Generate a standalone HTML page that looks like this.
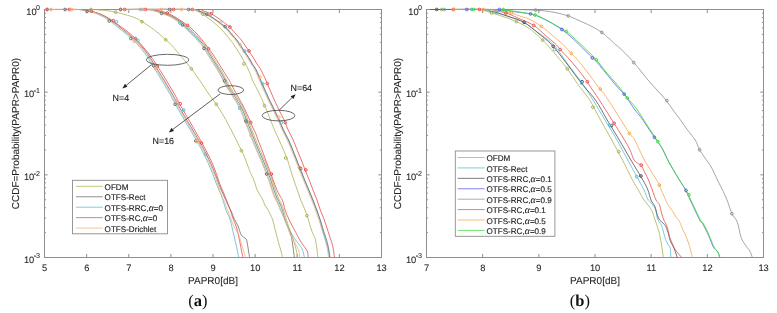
<!DOCTYPE html>
<html><head><meta charset="utf-8"><style>
html,body{margin:0;padding:0;background:#fff;}
svg{display:block;}
text{font-family:"Liberation Sans",sans-serif;fill:#1e1e1e;text-rendering:geometricPrecision;}
.lg,.nl{stroke:#1e1e1e;stroke-width:0.15px;}
.tk,.xl{stroke:#333;stroke-width:0.1px;}
.tk{font-size:9.3px;}
.sup{font-size:7.1px;}
.xl{font-size:10px;}
.lg{font-size:8.1px;}
.al{font-family:"Liberation Serif",serif;font-style:italic;font-size:9.8px;}
.nl{font-size:8.9px;}
.cap{font-family:"Liberation Serif",serif;font-size:16.5px;fill:#111;}
.cap tspan{font-weight:bold;}
</style></head><body>
<svg width="777" height="313" viewBox="0 0 777 313">
<rect width="777" height="313" fill="#fff"/>
<rect x="44.5" y="9.5" width="337.0" height="248.0" fill="none" stroke="#8e8e8e" stroke-width="1"/>
<path d="M44.5,257.5 v-3.5 M44.5,9.5 v3.5" stroke="#8e8e8e" stroke-width="1"/>
<path d="M86.62,257.5 v-3.5 M86.62,9.5 v3.5" stroke="#8e8e8e" stroke-width="1"/>
<path d="M128.75,257.5 v-3.5 M128.75,9.5 v3.5" stroke="#8e8e8e" stroke-width="1"/>
<path d="M170.88,257.5 v-3.5 M170.88,9.5 v3.5" stroke="#8e8e8e" stroke-width="1"/>
<path d="M213,257.5 v-3.5 M213,9.5 v3.5" stroke="#8e8e8e" stroke-width="1"/>
<path d="M255.12,257.5 v-3.5 M255.12,9.5 v3.5" stroke="#8e8e8e" stroke-width="1"/>
<path d="M297.25,257.5 v-3.5 M297.25,9.5 v3.5" stroke="#8e8e8e" stroke-width="1"/>
<path d="M339.38,257.5 v-3.5 M339.38,9.5 v3.5" stroke="#8e8e8e" stroke-width="1"/>
<path d="M381.5,257.5 v-3.5 M381.5,9.5 v3.5" stroke="#8e8e8e" stroke-width="1"/>
<path d="M44.5,9.5 h3.2 M381.5,9.5 h-3.2" stroke="#8e8e8e" stroke-width="1"/>
<path d="M44.5,92.17 h3.2 M381.5,92.17 h-3.2" stroke="#8e8e8e" stroke-width="1"/>
<path d="M44.5,174.83 h3.2 M381.5,174.83 h-3.2" stroke="#8e8e8e" stroke-width="1"/>
<path d="M44.5,257.5 h3.2 M381.5,257.5 h-3.2" stroke="#8e8e8e" stroke-width="1"/>
<path d="M44.5,67.28 h1.6 M381.5,67.28 h-1.6" stroke="#8e8e8e" stroke-width="0.9"/>
<path d="M44.5,52.72 h1.6 M381.5,52.72 h-1.6" stroke="#8e8e8e" stroke-width="0.9"/>
<path d="M44.5,42.4 h1.6 M381.5,42.4 h-1.6" stroke="#8e8e8e" stroke-width="0.9"/>
<path d="M44.5,34.39 h1.6 M381.5,34.39 h-1.6" stroke="#8e8e8e" stroke-width="0.9"/>
<path d="M44.5,27.84 h1.6 M381.5,27.84 h-1.6" stroke="#8e8e8e" stroke-width="0.9"/>
<path d="M44.5,22.31 h1.6 M381.5,22.31 h-1.6" stroke="#8e8e8e" stroke-width="0.9"/>
<path d="M44.5,17.51 h1.6 M381.5,17.51 h-1.6" stroke="#8e8e8e" stroke-width="0.9"/>
<path d="M44.5,13.28 h1.6 M381.5,13.28 h-1.6" stroke="#8e8e8e" stroke-width="0.9"/>
<path d="M44.5,149.95 h1.6 M381.5,149.95 h-1.6" stroke="#8e8e8e" stroke-width="0.9"/>
<path d="M44.5,135.39 h1.6 M381.5,135.39 h-1.6" stroke="#8e8e8e" stroke-width="0.9"/>
<path d="M44.5,125.06 h1.6 M381.5,125.06 h-1.6" stroke="#8e8e8e" stroke-width="0.9"/>
<path d="M44.5,117.05 h1.6 M381.5,117.05 h-1.6" stroke="#8e8e8e" stroke-width="0.9"/>
<path d="M44.5,110.51 h1.6 M381.5,110.51 h-1.6" stroke="#8e8e8e" stroke-width="0.9"/>
<path d="M44.5,104.97 h1.6 M381.5,104.97 h-1.6" stroke="#8e8e8e" stroke-width="0.9"/>
<path d="M44.5,100.18 h1.6 M381.5,100.18 h-1.6" stroke="#8e8e8e" stroke-width="0.9"/>
<path d="M44.5,95.95 h1.6 M381.5,95.95 h-1.6" stroke="#8e8e8e" stroke-width="0.9"/>
<path d="M44.5,232.61 h1.6 M381.5,232.61 h-1.6" stroke="#8e8e8e" stroke-width="0.9"/>
<path d="M44.5,218.06 h1.6 M381.5,218.06 h-1.6" stroke="#8e8e8e" stroke-width="0.9"/>
<path d="M44.5,207.73 h1.6 M381.5,207.73 h-1.6" stroke="#8e8e8e" stroke-width="0.9"/>
<path d="M44.5,199.72 h1.6 M381.5,199.72 h-1.6" stroke="#8e8e8e" stroke-width="0.9"/>
<path d="M44.5,193.17 h1.6 M381.5,193.17 h-1.6" stroke="#8e8e8e" stroke-width="0.9"/>
<path d="M44.5,187.64 h1.6 M381.5,187.64 h-1.6" stroke="#8e8e8e" stroke-width="0.9"/>
<path d="M44.5,182.84 h1.6 M381.5,182.84 h-1.6" stroke="#8e8e8e" stroke-width="0.9"/>
<path d="M44.5,178.62 h1.6 M381.5,178.62 h-1.6" stroke="#8e8e8e" stroke-width="0.9"/>
<rect x="426.5" y="9.5" width="337.0" height="248.0" fill="none" stroke="#8e8e8e" stroke-width="1"/>
<path d="M426.5,257.5 v-3.5 M426.5,9.5 v3.5" stroke="#8e8e8e" stroke-width="1"/>
<path d="M482.67,257.5 v-3.5 M482.67,9.5 v3.5" stroke="#8e8e8e" stroke-width="1"/>
<path d="M538.83,257.5 v-3.5 M538.83,9.5 v3.5" stroke="#8e8e8e" stroke-width="1"/>
<path d="M595,257.5 v-3.5 M595,9.5 v3.5" stroke="#8e8e8e" stroke-width="1"/>
<path d="M651.17,257.5 v-3.5 M651.17,9.5 v3.5" stroke="#8e8e8e" stroke-width="1"/>
<path d="M707.33,257.5 v-3.5 M707.33,9.5 v3.5" stroke="#8e8e8e" stroke-width="1"/>
<path d="M763.5,257.5 v-3.5 M763.5,9.5 v3.5" stroke="#8e8e8e" stroke-width="1"/>
<path d="M426.5,9.5 h3.2 M763.5,9.5 h-3.2" stroke="#8e8e8e" stroke-width="1"/>
<path d="M426.5,92.17 h3.2 M763.5,92.17 h-3.2" stroke="#8e8e8e" stroke-width="1"/>
<path d="M426.5,174.83 h3.2 M763.5,174.83 h-3.2" stroke="#8e8e8e" stroke-width="1"/>
<path d="M426.5,257.5 h3.2 M763.5,257.5 h-3.2" stroke="#8e8e8e" stroke-width="1"/>
<path d="M426.5,67.28 h1.6 M763.5,67.28 h-1.6" stroke="#8e8e8e" stroke-width="0.9"/>
<path d="M426.5,52.72 h1.6 M763.5,52.72 h-1.6" stroke="#8e8e8e" stroke-width="0.9"/>
<path d="M426.5,42.4 h1.6 M763.5,42.4 h-1.6" stroke="#8e8e8e" stroke-width="0.9"/>
<path d="M426.5,34.39 h1.6 M763.5,34.39 h-1.6" stroke="#8e8e8e" stroke-width="0.9"/>
<path d="M426.5,27.84 h1.6 M763.5,27.84 h-1.6" stroke="#8e8e8e" stroke-width="0.9"/>
<path d="M426.5,22.31 h1.6 M763.5,22.31 h-1.6" stroke="#8e8e8e" stroke-width="0.9"/>
<path d="M426.5,17.51 h1.6 M763.5,17.51 h-1.6" stroke="#8e8e8e" stroke-width="0.9"/>
<path d="M426.5,13.28 h1.6 M763.5,13.28 h-1.6" stroke="#8e8e8e" stroke-width="0.9"/>
<path d="M426.5,149.95 h1.6 M763.5,149.95 h-1.6" stroke="#8e8e8e" stroke-width="0.9"/>
<path d="M426.5,135.39 h1.6 M763.5,135.39 h-1.6" stroke="#8e8e8e" stroke-width="0.9"/>
<path d="M426.5,125.06 h1.6 M763.5,125.06 h-1.6" stroke="#8e8e8e" stroke-width="0.9"/>
<path d="M426.5,117.05 h1.6 M763.5,117.05 h-1.6" stroke="#8e8e8e" stroke-width="0.9"/>
<path d="M426.5,110.51 h1.6 M763.5,110.51 h-1.6" stroke="#8e8e8e" stroke-width="0.9"/>
<path d="M426.5,104.97 h1.6 M763.5,104.97 h-1.6" stroke="#8e8e8e" stroke-width="0.9"/>
<path d="M426.5,100.18 h1.6 M763.5,100.18 h-1.6" stroke="#8e8e8e" stroke-width="0.9"/>
<path d="M426.5,95.95 h1.6 M763.5,95.95 h-1.6" stroke="#8e8e8e" stroke-width="0.9"/>
<path d="M426.5,232.61 h1.6 M763.5,232.61 h-1.6" stroke="#8e8e8e" stroke-width="0.9"/>
<path d="M426.5,218.06 h1.6 M763.5,218.06 h-1.6" stroke="#8e8e8e" stroke-width="0.9"/>
<path d="M426.5,207.73 h1.6 M763.5,207.73 h-1.6" stroke="#8e8e8e" stroke-width="0.9"/>
<path d="M426.5,199.72 h1.6 M763.5,199.72 h-1.6" stroke="#8e8e8e" stroke-width="0.9"/>
<path d="M426.5,193.17 h1.6 M763.5,193.17 h-1.6" stroke="#8e8e8e" stroke-width="0.9"/>
<path d="M426.5,187.64 h1.6 M763.5,187.64 h-1.6" stroke="#8e8e8e" stroke-width="0.9"/>
<path d="M426.5,182.84 h1.6 M763.5,182.84 h-1.6" stroke="#8e8e8e" stroke-width="0.9"/>
<path d="M426.5,178.62 h1.6 M763.5,178.62 h-1.6" stroke="#8e8e8e" stroke-width="0.9"/>
<path d="M44.5,9.5 C51.75,9.5 78.75,9.42 88,9.5 C97.25,9.58 96.67,9.78 100,10 C103.33,10.22 105.38,10.43 108,10.8 C110.62,11.17 112.87,11.58 115.7,12.2 C118.53,12.82 121.78,13.57 125,14.5 C128.22,15.43 132.33,16.72 135,17.8 C137.67,18.88 139,19.83 141,21 C143,22.17 144.9,23.4 147,24.8 C149.1,26.2 151.43,27.78 153.6,29.4 C155.77,31.02 157.93,32.73 160,34.5 C162.07,36.27 164.08,38.25 166,40 C167.92,41.75 169.88,43.33 171.5,45 C173.12,46.67 173.78,47.75 175.7,50 C177.62,52.25 180.38,55.37 183,58.5 C185.62,61.63 189.07,65.8 191.4,68.8 C193.73,71.8 195.1,73.8 197,76.5 C198.9,79.2 200.72,81.92 202.8,85 C204.88,88.08 207.25,91.78 209.5,95 C211.75,98.22 214.13,101.13 216.3,104.3 C218.47,107.47 220.45,110.55 222.5,114 C224.55,117.45 226.52,121.08 228.6,125 C230.68,128.92 232.93,133.42 235,137.5 C237.07,141.58 239.42,146.25 241,149.5 C242.58,152.75 243.42,154.42 244.5,157 C245.58,159.58 246.58,162.57 247.5,165 C248.42,167.43 249.33,169.93 250,171.6 C250.67,173.27 250.87,173.6 251.5,175 C252.13,176.4 253.13,178.33 253.8,180 C254.47,181.67 254.97,183.4 255.5,185 C256.03,186.6 256.25,187.93 257,189.6 C257.75,191.27 259.02,193.27 260,195 C260.98,196.73 262.1,198.33 262.9,200 C263.7,201.67 264,203.45 264.8,205 C265.6,206.55 266.6,207.37 267.7,209.3 C268.8,211.23 270.52,214.65 271.4,216.6 C272.28,218.55 272.48,219.27 273,221 C273.52,222.73 274,225 274.5,227 C275,229 275.48,231 276,233 C276.52,235 277.07,237 277.6,239 C278.13,241 278.63,243 279.2,245 C279.77,247 280.43,248.92 281,251 C281.57,253.08 282.33,256.42 282.6,257.5" fill="none" stroke="#a9b153" stroke-width="0.8" stroke-linejoin="round"/>
<path d="M120,9.5 C131.33,9.5 175.5,9.37 188,9.5 C200.5,9.63 192.53,9.52 195,10.3 C197.47,11.08 200.63,12.92 202.8,14.2 C204.97,15.48 206.13,16.6 208,18 C209.87,19.4 211.67,20.6 214,22.6 C216.33,24.6 219.27,27.1 222,30 C224.73,32.9 228.4,37.5 230.4,40 C232.4,42.5 232.23,42.33 234,45 C235.77,47.67 238.57,51.83 241,56 C243.43,60.17 246.7,66 248.6,70 C250.5,74 250.75,76.33 252.4,80 C254.05,83.67 256.45,87.75 258.5,92 C260.55,96.25 262.7,100.83 264.7,105.5 C266.7,110.17 268.87,115.92 270.5,120 C272.13,124.08 272.92,126.33 274.5,130 C276.08,133.67 277.95,137.33 280,142 C282.05,146.67 285.13,153.67 286.8,158 C288.47,162.33 288.83,164.33 290,168 C291.17,171.67 292.58,176.33 293.8,180 C295.02,183.67 296.27,187 297.3,190 C298.33,193 299.13,195.63 300,198 C300.87,200.37 301.67,202.2 302.5,204.2 C303.33,206.2 304.25,208.08 305,210 C305.75,211.92 306.42,214.03 307,215.7 C307.58,217.37 307.75,217.62 308.5,220 C309.25,222.38 310.58,227.33 311.5,230 C312.42,232.67 313.35,234.47 314,236 C314.65,237.53 314.93,237.2 315.4,239.2 C315.87,241.2 316.38,244.95 316.8,248 C317.22,251.05 317.72,255.92 317.9,257.5" fill="none" stroke="#a9b153" stroke-width="0.8" stroke-linejoin="round"/>
<path d="M46.9,9.5 C52.15,9.5 72.15,9.4 78.4,9.5 C84.65,9.6 82.4,9.8 84.4,10.1 C86.4,10.4 88.23,10.82 90.4,11.3 C92.57,11.78 95.23,12.28 97.4,13 C99.57,13.72 101.23,14.48 103.4,15.6 C105.57,16.72 108.15,18.22 110.4,19.7 C112.65,21.18 114.68,22.78 116.9,24.5 C119.12,26.22 121.45,28.17 123.7,30 C125.95,31.83 128.58,34 130.4,35.5 C132.22,37 132.93,37.42 134.6,39 C136.27,40.58 138.27,42.58 140.4,45 C142.53,47.42 145.03,50.17 147.4,53.5 C149.77,56.83 152.35,61.42 154.6,65 C156.85,68.58 158.83,71.67 160.9,75 C162.97,78.33 165,81.67 167,85 C169,88.33 171.05,91.67 172.9,95 C174.75,98.33 176.27,101.67 178.1,105 C179.93,108.33 181.95,111.67 183.9,115 C185.85,118.33 187.83,121.67 189.8,125 C191.77,128.33 193.75,131.67 195.7,135 C197.65,138.33 199.65,141.67 201.5,145 C203.35,148.33 205.13,151.67 206.8,155 C208.47,158.33 210.03,161.67 211.5,165 C212.97,168.33 214.32,171.67 215.6,175 C216.88,178.33 217.88,181.67 219.2,185 C220.52,188.33 222.12,191.83 223.5,195 C224.88,198.17 226.17,201.17 227.5,204 C228.83,206.83 230.33,209.42 231.5,212 C232.67,214.58 233.42,217.17 234.5,219.5 C235.58,221.83 236.87,223.42 238,226 C239.13,228.58 239.97,232.83 241.3,235 C242.63,237.17 244.98,237.5 246,239 C247.02,240.5 246.8,240.92 247.4,244 C248,247.08 249.23,255.25 249.6,257.5" fill="none" stroke="#6e6e6e" stroke-width="0.8" stroke-linejoin="round"/>
<path d="M44.5,9.5 C49.75,9.5 69.75,9.4 76,9.5 C82.25,9.6 80,9.8 82,10.1 C84,10.4 85.83,10.82 88,11.3 C90.17,11.78 92.83,12.28 95,13 C97.17,13.72 98.83,14.48 101,15.6 C103.17,16.72 105.75,18.22 108,19.7 C110.25,21.18 112.28,22.78 114.5,24.5 C116.72,26.22 119.05,28.17 121.3,30 C123.55,31.83 126.18,34 128,35.5 C129.82,37 130.53,37.42 132.2,39 C133.87,40.58 135.87,42.58 138,45 C140.13,47.42 142.63,50.17 145,53.5 C147.37,56.83 149.95,61.42 152.2,65 C154.45,68.58 156.43,71.67 158.5,75 C160.57,78.33 162.6,81.67 164.6,85 C166.6,88.33 168.65,91.67 170.5,95 C172.35,98.33 173.87,101.67 175.7,105 C177.53,108.33 179.55,111.67 181.5,115 C183.45,118.33 185.43,121.67 187.4,125 C189.37,128.33 191.35,131.67 193.3,135 C195.25,138.33 197.25,141.67 199.1,145 C200.95,148.33 202.73,151.67 204.4,155 C206.07,158.33 207.63,161.67 209.1,165 C210.57,168.33 211.92,171.67 213.2,175 C214.48,178.33 215.47,181.67 216.8,185 C218.13,188.33 220.03,192 221.2,195 C222.37,198 222.95,200.33 223.8,203 C224.65,205.67 225.33,208.5 226.3,211 C227.27,213.5 228.67,215.33 229.6,218 C230.53,220.67 231.12,223.83 231.9,227 C232.68,230.17 233.52,233.67 234.3,237 C235.08,240.33 235.85,243.58 236.6,247 C237.35,250.42 238.43,255.75 238.8,257.5" fill="none" stroke="#5ab9d8" stroke-width="0.8" stroke-linejoin="round"/>
<path d="M44.5,9.5 C50.25,9.5 72.08,9.37 79,9.5 C85.92,9.63 83.83,9.95 86,10.3 C88.17,10.65 89.83,11.05 92,11.6 C94.17,12.15 96.83,12.82 99,13.6 C101.17,14.38 102.83,15.18 105,16.3 C107.17,17.42 109.67,18.77 112,20.3 C114.33,21.83 116.65,23.8 119,25.5 C121.35,27.2 123.27,28.25 126.1,30.5 C128.93,32.75 133.43,36.58 136,39 C138.57,41.42 139.33,42.5 141.5,45 C143.67,47.5 146.47,50.67 149,54 C151.53,57.33 154.37,61.5 156.7,65 C159.03,68.5 160.93,71.67 163,75 C165.07,78.33 167.1,81.67 169.1,85 C171.1,88.33 173.15,91.67 175,95 C176.85,98.33 178.37,101.67 180.2,105 C182.03,108.33 184.07,111.67 186,115 C187.93,118.33 189.88,121.67 191.8,125 C193.72,128.33 195.62,131.67 197.5,135 C199.38,138.33 201.28,141.67 203.1,145 C204.92,148.33 206.75,151.67 208.4,155 C210.05,158.33 211.6,161.67 213,165 C214.4,168.33 215.6,171.67 216.8,175 C218,178.33 218.92,181.67 220.2,185 C221.48,188.33 223.13,191.67 224.5,195 C225.87,198.33 227.38,202.33 228.4,205 C229.42,207.67 229.87,208.83 230.6,211 C231.33,213.17 231.83,215.33 232.8,218 C233.77,220.67 235.43,224 236.4,227 C237.37,230 237.93,233 238.6,236 C239.27,239 239.68,241.42 240.4,245 C241.12,248.58 242.48,255.42 242.9,257.5" fill="none" stroke="#ea4d4d" stroke-width="0.8" stroke-linejoin="round"/>
<path d="M45.8,9.5 C51.05,9.5 71.05,9.4 77.3,9.5 C83.55,9.6 81.3,9.8 83.3,10.1 C85.3,10.4 87.13,10.82 89.3,11.3 C91.47,11.78 94.13,12.28 96.3,13 C98.47,13.72 100.13,14.48 102.3,15.6 C104.47,16.72 107.05,18.22 109.3,19.7 C111.55,21.18 113.58,22.78 115.8,24.5 C118.02,26.22 120.35,28.17 122.6,30 C124.85,31.83 127.48,34 129.3,35.5 C131.12,37 131.83,37.42 133.5,39 C135.17,40.58 137.17,42.58 139.3,45 C141.43,47.42 143.93,50.17 146.3,53.5 C148.67,56.83 151.25,61.42 153.5,65 C155.75,68.58 157.73,71.67 159.8,75 C161.87,78.33 163.9,81.67 165.9,85 C167.9,88.33 169.95,91.67 171.8,95 C173.65,98.33 175.17,101.67 177,105 C178.83,108.33 180.85,111.67 182.8,115 C184.75,118.33 186.73,121.67 188.7,125 C190.67,128.33 192.65,131.67 194.6,135 C196.55,138.33 198.55,141.67 200.4,145 C202.25,148.33 204.03,151.67 205.7,155 C207.37,158.33 208.93,161.67 210.4,165 C211.87,168.33 213.22,171.67 214.5,175 C215.78,178.33 216.95,181.67 218.1,185 C219.25,188.33 220.13,191.67 221.4,195 C222.67,198.33 224.63,202.33 225.7,205 C226.77,207.67 226.92,208.67 227.8,211 C228.68,213.33 229.97,216.33 231,219 C232.03,221.67 232.73,224.4 234,227 C235.27,229.6 237.3,231.6 238.6,234.6 C239.9,237.6 240.97,242.27 241.8,245 C242.63,247.73 242.98,248.92 243.6,251 C244.22,253.08 245.18,256.42 245.5,257.5" fill="none" stroke="#f2b07a" stroke-width="0.8" stroke-linejoin="round"/>
<path d="M120,9.5 C124.42,9.5 140.92,9.38 146.5,9.5 C152.08,9.62 151,9.7 153.5,10.2 C156,10.7 159,11.7 161.5,12.5 C164,13.3 166.17,14 168.5,15 C170.83,16 173.17,17.08 175.5,18.5 C177.83,19.92 180.5,21.92 182.5,23.5 C184.5,25.08 185.83,26.42 187.5,28 C189.17,29.58 190.83,31.33 192.5,33 C194.17,34.67 196.08,36.5 197.5,38 C198.92,39.5 199.83,40.67 201,42 C202.17,43.33 203.08,44 204.5,46 C205.92,48 207.83,51.33 209.5,54 C211.17,56.67 212.83,59.33 214.5,62 C216.17,64.67 217.92,67.33 219.5,70 C221.08,72.67 222.67,75.5 224,78 C225.33,80.5 225.83,82.17 227.5,85 C229.17,87.83 231.92,91.67 234,95 C236.08,98.33 238.42,102.17 240,105 C241.58,107.83 242.42,109.5 243.5,112 C244.58,114.5 245.33,117 246.5,120 C247.67,123 249.18,126.67 250.5,130 C251.82,133.33 253.07,136.67 254.4,140 C255.73,143.33 257.07,146.67 258.5,150 C259.93,153.33 261.58,156.67 263,160 C264.42,163.33 265.7,166.67 267,170 C268.3,173.33 269.63,176.67 270.8,180 C271.97,183.33 272.97,187 274,190 C275.03,193 275.92,195.5 277,198 C278.08,200.5 279.62,203 280.5,205 C281.38,207 281.5,207.5 282.3,210 C283.1,212.5 284.35,217.17 285.3,220 C286.25,222.83 287.03,224.45 288,227 C288.97,229.55 290.27,232 291.1,235.3 C291.93,238.6 292.47,243.1 293,246.8 C293.53,250.5 294.08,255.72 294.3,257.5" fill="none" stroke="#6e6e6e" stroke-width="0.8" stroke-linejoin="round"/>
<path d="M120,9.5 C124.17,9.5 139.67,9.38 145,9.5 C150.33,9.62 149.5,9.7 152,10.2 C154.5,10.7 157.5,11.7 160,12.5 C162.5,13.3 164.67,14 167,15 C169.33,16 171.67,17.08 174,18.5 C176.33,19.92 179,21.92 181,23.5 C183,25.08 184.33,26.42 186,28 C187.67,29.58 189.33,31.33 191,33 C192.67,34.67 194.58,36.5 196,38 C197.42,39.5 198.33,40.67 199.5,42 C200.67,43.33 201.58,44 203,46 C204.42,48 206.33,51.33 208,54 C209.67,56.67 211.33,59.33 213,62 C214.67,64.67 216.42,67.33 218,70 C219.58,72.67 221.17,75.5 222.5,78 C223.83,80.5 224.33,82.17 226,85 C227.67,87.83 230.42,91.67 232.5,95 C234.58,98.33 236.92,102.17 238.5,105 C240.08,107.83 240.92,109.5 242,112 C243.08,114.5 243.83,117 245,120 C246.17,123 247.68,126.67 249,130 C250.32,133.33 251.57,136.67 252.9,140 C254.23,143.33 255.57,146.67 257,150 C258.43,153.33 260.08,156.67 261.5,160 C262.92,163.33 264.2,166.67 265.5,170 C266.8,173.33 268.13,176.67 269.3,180 C270.47,183.33 271.47,187 272.5,190 C273.53,193 274.42,195.5 275.5,198 C276.58,200.5 278.12,203 279,205 C279.88,207 280.05,208 280.8,210 C281.55,212 282.5,214.5 283.5,217 C284.5,219.5 285.55,222.37 286.8,225 C288.05,227.63 289.55,230.3 291,232.8 C292.45,235.3 294,237.87 295.5,240 C297,242.13 298.83,243.93 300,245.6 C301.17,247.27 301.75,248.02 302.5,250 C303.25,251.98 304.17,256.25 304.5,257.5" fill="none" stroke="#5ab9d8" stroke-width="0.8" stroke-linejoin="round"/>
<path d="M120,9.5 C124.65,9.5 142.08,9.38 147.9,9.5 C153.72,9.62 152.4,9.7 154.9,10.2 C157.4,10.7 160.4,11.7 162.9,12.5 C165.4,13.3 167.57,14 169.9,15 C172.23,16 174.57,17.08 176.9,18.5 C179.23,19.92 181.9,21.92 183.9,23.5 C185.9,25.08 187.23,26.42 188.9,28 C190.57,29.58 192.23,31.33 193.9,33 C195.57,34.67 197.48,36.5 198.9,38 C200.32,39.5 201.23,40.67 202.4,42 C203.57,43.33 204.48,44 205.9,46 C207.32,48 209.23,51.33 210.9,54 C212.57,56.67 214.23,59.33 215.9,62 C217.57,64.67 219.32,67.33 220.9,70 C222.48,72.67 224.07,75.5 225.4,78 C226.73,80.5 227.23,82.17 228.9,85 C230.57,87.83 233.32,91.67 235.4,95 C237.48,98.33 239.82,102.17 241.4,105 C242.98,107.83 243.82,109.5 244.9,112 C245.98,114.5 246.73,117 247.9,120 C249.07,123 250.58,126.67 251.9,130 C253.22,133.33 254.47,136.67 255.8,140 C257.13,143.33 258.47,146.67 259.9,150 C261.33,153.33 262.98,156.67 264.4,160 C265.82,163.33 267.1,166.67 268.4,170 C269.7,173.33 271.03,176.67 272.2,180 C273.37,183.33 274.37,187 275.4,190 C276.43,193 277.32,195.5 278.4,198 C279.48,200.5 281.02,203 281.9,205 C282.78,207 283.05,207.83 283.7,210 C284.35,212.17 284.83,214.83 285.8,218 C286.77,221.17 288.22,225.33 289.5,229 C290.78,232.67 292.38,236.5 293.5,240 C294.62,243.5 295.53,247.08 296.2,250 C296.87,252.92 297.28,256.25 297.5,257.5" fill="none" stroke="#a9b153" stroke-width="0.8" stroke-linejoin="round"/>
<path d="M120,9.5 C125,9.5 143.67,9.33 150,9.5 C156.33,9.67 155.13,9.92 158,10.5 C160.87,11.08 164.37,11.92 167.2,13 C170.03,14.08 172.53,15.58 175,17 C177.47,18.42 179.85,20.08 182,21.5 C184.15,22.92 186.23,24.25 187.9,25.5 C189.57,26.75 190.48,27.58 192,29 C193.52,30.42 195.32,32.17 197,34 C198.68,35.83 200.6,38.17 202.1,40 C203.6,41.83 204.85,43.53 206,45 C207.15,46.47 207.67,46.97 209,48.8 C210.33,50.63 212.33,53.47 214,56 C215.67,58.53 217.33,61.33 219,64 C220.67,66.67 222.32,69.33 224,72 C225.68,74.67 227.82,77.83 229.1,80 C230.38,82.17 230.38,82.5 231.7,85 C233.02,87.5 235.17,91.67 237,95 C238.83,98.33 241.12,102 242.7,105 C244.28,108 245.33,110.5 246.5,113 C247.67,115.5 248.7,117.67 249.7,120 C250.7,122.33 251.53,124.83 252.5,127 C253.47,129.17 254.58,130.83 255.5,133 C256.42,135.17 256.92,137.17 258,140 C259.08,142.83 260.72,146.67 262,150 C263.28,153.33 264.45,156.67 265.7,160 C266.95,163.33 268.25,166.67 269.5,170 C270.75,173.33 272.03,176.83 273.2,180 C274.37,183.17 275.37,186.33 276.5,189 C277.63,191.67 278.95,194 280,196 C281.05,198 281.95,198.67 282.8,201 C283.65,203.33 284.03,206.83 285.1,210 C286.17,213.17 287.63,216.67 289.2,220 C290.77,223.33 292.8,226.8 294.5,230 C296.2,233.2 297.98,236.7 299.4,239.2 C300.82,241.7 301.72,243.08 303,245 C304.28,246.92 306.22,248.62 307.1,250.7 C307.98,252.78 308.1,256.37 308.3,257.5" fill="none" stroke="#ea4d4d" stroke-width="0.8" stroke-linejoin="round"/>
<path d="M120,9.5 C124.05,9.5 139.08,9.38 144.3,9.5 C149.52,9.62 148.8,9.7 151.3,10.2 C153.8,10.7 156.8,11.7 159.3,12.5 C161.8,13.3 163.97,14 166.3,15 C168.63,16 170.97,17.08 173.3,18.5 C175.63,19.92 178.3,21.92 180.3,23.5 C182.3,25.08 183.63,26.42 185.3,28 C186.97,29.58 188.63,31.33 190.3,33 C191.97,34.67 193.88,36.5 195.3,38 C196.72,39.5 197.63,40.67 198.8,42 C199.97,43.33 200.88,44 202.3,46 C203.72,48 205.63,51.33 207.3,54 C208.97,56.67 210.63,59.33 212.3,62 C213.97,64.67 215.72,67.33 217.3,70 C218.88,72.67 220.47,75.5 221.8,78 C223.13,80.5 223.63,82.17 225.3,85 C226.97,87.83 229.72,91.67 231.8,95 C233.88,98.33 236.22,102.17 237.8,105 C239.38,107.83 240.22,109.5 241.3,112 C242.38,114.5 243.13,117 244.3,120 C245.47,123 246.98,126.67 248.3,130 C249.62,133.33 250.87,136.67 252.2,140 C253.53,143.33 254.87,146.67 256.3,150 C257.73,153.33 259.38,156.67 260.8,160 C262.22,163.33 263.5,166.67 264.8,170 C266.1,173.33 267.43,176.67 268.6,180 C269.77,183.33 270.77,187 271.8,190 C272.83,193 273.72,195.5 274.8,198 C275.88,200.5 277.42,203 278.3,205 C279.18,207 278.98,207.67 280.1,210 C281.22,212.33 283.77,216.17 285,219 C286.23,221.83 286.6,224.33 287.5,227 C288.4,229.67 289.15,232.33 290.4,235 C291.65,237.67 293.6,240.38 295,243 C296.4,245.62 298.03,248.28 298.8,250.7 C299.57,253.12 299.47,256.37 299.6,257.5" fill="none" stroke="#f2b07a" stroke-width="0.8" stroke-linejoin="round"/>
<path d="M120,9.5 C131.78,9.5 177.75,9.25 190.7,9.5 C203.65,9.75 195.23,10.22 197.7,11 C200.17,11.78 203,12.95 205.5,14.2 C208,15.45 210.5,17.07 212.7,18.5 C214.9,19.93 216.85,21.45 218.7,22.8 C220.55,24.15 222.42,25.4 223.8,26.6 C225.18,27.8 225.77,28.6 227,30 C228.23,31.4 229.78,33.33 231.2,35 C232.62,36.67 234.08,38.17 235.5,40 C236.92,41.83 238.33,44 239.7,46 C241.07,48 242.37,50 243.7,52 C245.03,54 246.45,56 247.7,58 C248.95,60 249.98,62 251.2,64 C252.42,66 253.65,67.33 255,70 C256.35,72.67 257.85,76.67 259.3,80 C260.75,83.33 262.22,86.67 263.7,90 C265.18,93.33 266.62,96.67 268.2,100 C269.78,103.33 271.58,106.67 273.2,110 C274.82,113.33 276.4,116.67 277.9,120 C279.4,123.33 280.63,126.67 282.2,130 C283.77,133.33 285.75,136.67 287.3,140 C288.85,143.33 290.13,146.67 291.5,150 C292.87,153.33 294.18,156.67 295.5,160 C296.82,163.33 298.08,166.67 299.4,170 C300.72,173.33 302.03,176.67 303.4,180 C304.77,183.33 306.22,186.67 307.6,190 C308.98,193.33 310.38,196.67 311.7,200 C313.02,203.33 314.28,206.67 315.5,210 C316.72,213.33 317.92,216.67 319,220 C320.08,223.33 321.05,227 322,230 C322.95,233 323.87,235.17 324.7,238 C325.53,240.83 326.33,243.75 327,247 C327.67,250.25 328.42,255.75 328.7,257.5" fill="none" stroke="#f2b07a" stroke-width="0.8" stroke-linejoin="round"/>
<path d="M120,9.5 C131.95,9.5 178.58,9.25 191.7,9.5 C204.82,9.75 196.23,10.22 198.7,11 C201.17,11.78 204,12.95 206.5,14.2 C209,15.45 211.5,17.07 213.7,18.5 C215.9,19.93 217.85,21.45 219.7,22.8 C221.55,24.15 223.42,25.4 224.8,26.6 C226.18,27.8 226.77,28.6 228,30 C229.23,31.4 230.78,33.33 232.2,35 C233.62,36.67 235.08,38.17 236.5,40 C237.92,41.83 239.33,44 240.7,46 C242.07,48 243.37,50 244.7,52 C246.03,54 247.45,56 248.7,58 C249.95,60 250.98,62 252.2,64 C253.42,66 254.65,67.33 256,70 C257.35,72.67 258.85,76.67 260.3,80 C261.75,83.33 263.22,86.67 264.7,90 C266.18,93.33 267.62,96.67 269.2,100 C270.78,103.33 272.58,106.67 274.2,110 C275.82,113.33 277.4,116.67 278.9,120 C280.4,123.33 281.63,126.67 283.2,130 C284.77,133.33 286.75,136.67 288.3,140 C289.85,143.33 291.13,146.67 292.5,150 C293.87,153.33 295.18,156.67 296.5,160 C297.82,163.33 299.08,166.67 300.4,170 C301.72,173.33 303.03,176.67 304.4,180 C305.77,183.33 307.22,186.67 308.6,190 C309.98,193.33 311.38,196.67 312.7,200 C314.02,203.33 315.28,206.67 316.5,210 C317.72,213.33 319,216.67 320,220 C321,223.33 321.58,226.67 322.5,230 C323.42,233.33 324.58,237 325.5,240 C326.42,243 327.33,245.08 328,248 C328.67,250.92 329.25,255.92 329.5,257.5" fill="none" stroke="#5ab9d8" stroke-width="0.8" stroke-linejoin="round"/>
<path d="M120,9.5 C132,9.5 178.83,9.25 192,9.5 C205.17,9.75 196.53,10.22 199,11 C201.47,11.78 204.3,12.95 206.8,14.2 C209.3,15.45 211.8,17.07 214,18.5 C216.2,19.93 218.15,21.45 220,22.8 C221.85,24.15 223.72,25.4 225.1,26.6 C226.48,27.8 227.07,28.6 228.3,30 C229.53,31.4 231.08,33.33 232.5,35 C233.92,36.67 235.38,38.17 236.8,40 C238.22,41.83 239.63,44 241,46 C242.37,48 243.67,50 245,52 C246.33,54 247.75,56 249,58 C250.25,60 251.28,62 252.5,64 C253.72,66 254.95,67.33 256.3,70 C257.65,72.67 259.15,76.67 260.6,80 C262.05,83.33 263.52,86.67 265,90 C266.48,93.33 267.92,96.67 269.5,100 C271.08,103.33 272.88,106.67 274.5,110 C276.12,113.33 277.7,116.67 279.2,120 C280.7,123.33 281.93,126.67 283.5,130 C285.07,133.33 287.05,136.67 288.6,140 C290.15,143.33 291.43,146.67 292.8,150 C294.17,153.33 295.48,156.67 296.8,160 C298.12,163.33 299.38,166.67 300.7,170 C302.02,173.33 303.33,176.67 304.7,180 C306.07,183.33 307.52,186.67 308.9,190 C310.28,193.33 311.68,196.67 313,200 C314.32,203.33 315.58,206.67 316.8,210 C318.02,213.33 319.22,216.67 320.3,220 C321.38,223.33 322.35,227 323.3,230 C324.25,233 325.17,235.17 326,238 C326.83,240.83 327.63,243.75 328.3,247 C328.97,250.25 329.72,255.75 330,257.5" fill="none" stroke="#6e6e6e" stroke-width="0.8" stroke-linejoin="round"/>
<path d="M120,9.5 C132.5,9.5 181.17,9.25 195,9.5 C208.83,9.75 200.3,10.28 203,11 C205.7,11.72 208.7,12.63 211.2,13.8 C213.7,14.97 215.87,16.55 218,18 C220.13,19.45 222.02,21 224,22.5 C225.98,24 228.52,25.75 229.9,27 C231.28,28.25 231.15,28.67 232.3,30 C233.45,31.33 235.3,33.33 236.8,35 C238.3,36.67 239.85,38.17 241.3,40 C242.75,41.83 244.13,44 245.5,46 C246.87,48 248.17,50 249.5,52 C250.83,54 252.25,56 253.5,58 C254.75,60 255.75,62 257,64 C258.25,66 259.53,67.33 261,70 C262.47,72.67 264.3,76.67 265.8,80 C267.3,83.33 268.58,86.67 270,90 C271.42,93.33 272.8,96.67 274.3,100 C275.8,103.33 277.37,106.67 279,110 C280.63,113.33 282.57,116.67 284.1,120 C285.63,123.33 286.68,126.67 288.2,130 C289.72,133.33 291.7,136.67 293.2,140 C294.7,143.33 295.85,146.67 297.2,150 C298.55,153.33 299.97,156.67 301.3,160 C302.63,163.33 303.88,166.67 305.2,170 C306.52,173.33 307.9,176.67 309.2,180 C310.5,183.33 311.7,186.67 313,190 C314.3,193.33 315.78,196.67 317,200 C318.22,203.33 319.08,206.67 320.3,210 C321.52,213.33 323.08,216.67 324.3,220 C325.52,223.33 326.73,227.33 327.6,230 C328.47,232.67 328.67,233.4 329.5,236 C330.33,238.6 331.77,242.02 332.6,245.6 C333.43,249.18 334.18,255.52 334.5,257.5" fill="none" stroke="#ea4d4d" stroke-width="0.8" stroke-linejoin="round"/>
<path d="M446,9.5 C451.33,9.5 471.5,9.28 478,9.5 C484.5,9.72 482.73,10.22 485,10.8 C487.27,11.38 488.6,12.05 491.6,13 C494.6,13.95 498.87,15.07 503,16.5 C507.13,17.93 511.9,19.52 516.4,21.6 C520.9,23.68 525.63,25.92 530,29 C534.37,32.08 539.7,37.43 542.6,40.1 C545.5,42.77 545.17,42.52 547.4,45 C549.63,47.48 552.68,51.03 556,55 C559.32,58.97 563.58,63.8 567.3,68.8 C571.02,73.8 574.57,79.8 578.3,85 C582.03,90.2 586,94.17 589.7,100 C593.4,105.83 596.82,113.33 600.5,120 C604.18,126.67 608.13,133.33 611.8,140 C615.47,146.67 619.05,153.33 622.5,160 C625.95,166.67 629.87,175 632.5,180 C635.13,185 636.38,186.67 638.3,190 C640.22,193.33 642.38,197.5 644,200 C645.62,202.5 646.92,203.58 648,205 C649.08,206.42 649.75,207.33 650.5,208.5 C651.25,209.67 651.85,210.42 652.5,212 C653.15,213.58 653.73,216 654.4,218 C655.07,220 655.77,221.83 656.5,224 C657.23,226.17 658.17,228.67 658.8,231 C659.43,233.33 659.85,235.67 660.3,238 C660.75,240.33 661.13,242.83 661.5,245 C661.87,247.17 662.2,248.92 662.5,251 C662.8,253.08 663.17,256.42 663.3,257.5" fill="none" stroke="#a9b153" stroke-width="0.8" stroke-linejoin="round"/>
<path d="M447,9.5 C452.5,9.5 473.17,9.25 480,9.5 C486.83,9.75 485.27,10.48 488,11 C490.73,11.52 492.73,11.6 496.4,12.6 C500.07,13.6 505.4,15.33 510,17 C514.6,18.67 519.33,20.02 524,22.6 C528.67,25.18 533.03,28.77 538,32.5 C542.97,36.23 548.72,39.58 553.8,45 C558.88,50.42 563.55,58.33 568.5,65 C573.45,71.67 579.42,79.17 583.5,85 C587.58,90.83 589.42,94.17 593,100 C596.58,105.83 601,113.33 605,120 C609,126.67 613.22,133.33 617,140 C620.78,146.67 624.08,153.33 627.7,160 C631.32,166.67 635.98,175 638.7,180 C641.42,185 642.5,186.83 644,190 C645.5,193.17 646.63,197 647.7,199 C648.77,201 649.2,200.5 650.4,202 C651.6,203.5 653.88,206 654.9,208 C655.92,210 656.07,212.17 656.5,214 C656.93,215.83 656.92,217.5 657.5,219 C658.08,220.5 659.22,221.6 660,223 C660.78,224.4 661.27,224.65 662.2,227.4 C663.13,230.15 664.55,236.57 665.6,239.5 C666.65,242.43 667.72,243.55 668.5,245 C669.28,246.45 669.9,246.12 670.3,248.2 C670.7,250.28 670.8,255.95 670.9,257.5" fill="none" stroke="#5ab9d8" stroke-width="0.8" stroke-linejoin="round"/>
<path d="M430,9.5 C438.67,9.5 472,9.25 482,9.5 C492,9.75 487.33,10.42 490,11 C492.67,11.58 494.67,12 498,13 C501.33,14 505.65,15.45 510,17 C514.35,18.55 519.43,19.63 524.1,22.3 C528.77,24.97 533.37,29.22 538,33 C542.63,36.78 547.07,39.83 551.9,45 C556.73,50.17 561.85,57.33 567,64 C572.15,70.67 578.05,79 582.8,85 C587.55,91 591.43,94.17 595.5,100 C599.57,105.83 603.23,113.33 607.2,120 C611.17,126.67 615.35,133.33 619.3,140 C623.25,146.67 626.98,153.33 630.9,160 C634.82,166.67 639.97,175 642.8,180 C645.63,185 646.53,186.67 647.9,190 C649.27,193.33 649.83,197.23 651,200 C652.17,202.77 653.82,204.02 654.9,206.6 C655.98,209.18 656.7,213.27 657.5,215.5 C658.3,217.73 658.65,218.62 659.7,220 C660.75,221.38 662.72,222.57 663.8,223.8 C664.88,225.03 665.42,225.7 666.2,227.4 C666.98,229.1 667.82,231.77 668.5,234 C669.18,236.23 669.33,238.32 670.3,240.8 C671.27,243.28 673.15,246.12 674.3,248.9 C675.45,251.68 676.72,256.07 677.2,257.5" fill="none" stroke="#505050" stroke-width="0.8" stroke-linejoin="round"/>
<path d="M470,9.5 C477.5,9.5 503.33,9.33 515,9.5 C526.67,9.67 533.33,10 540,10.5 C546.67,11 550.28,11.6 555,12.5 C559.72,13.4 564.13,14.48 568.3,15.9 C572.47,17.32 576.05,19.23 580,21 C583.95,22.77 588.37,24.6 592,26.5 C595.63,28.4 598.97,30.4 601.8,32.4 C604.63,34.4 606.63,36.4 609,38.5 C611.37,40.6 614.17,43.37 616,45 C617.83,46.63 617.4,45.8 620,48.3 C622.6,50.8 628.27,56.38 631.6,60 C634.93,63.62 637.27,66.67 640,70 C642.73,73.33 645.17,76.67 648,80 C650.83,83.33 654.02,86.67 657,90 C659.98,93.33 663.23,96.67 665.9,100 C668.57,103.33 670.65,106.78 673,110 C675.35,113.22 677.58,115.97 680,119.3 C682.42,122.63 684.97,126.55 687.5,130 C690.03,133.45 693.18,136.72 695.2,140 C697.22,143.28 697.97,146.7 699.6,149.7 C701.23,152.7 703.07,155.12 705,158 C706.93,160.88 709.12,163.33 711.2,167 C713.28,170.67 715.22,175.33 717.5,180 C719.78,184.67 723.07,191 724.9,195 C726.73,199 727.33,200.88 728.5,204 C729.67,207.12 730.42,210.63 731.9,213.7 C733.38,216.77 735.87,218.45 737.4,222.4 C738.93,226.35 739.65,233.45 741.1,237.4 C742.55,241.35 744.63,243.82 746.1,246.1 C747.57,248.38 748.85,249.2 749.9,251.1 C750.95,253 751.98,256.43 752.4,257.5" fill="none" stroke="#8f8f8f" stroke-width="0.8" stroke-linejoin="round"/>
<path d="M450,9.5 C456.33,9.5 480.33,9.28 488,9.5 C495.67,9.72 493,10.22 496,10.8 C499,11.38 502.33,11.8 506,13 C509.67,14.2 513.38,15.93 518,18 C522.62,20.07 529.2,22.57 533.7,25.4 C538.2,28.23 541.2,31.73 545,35 C548.8,38.27 553.97,42.58 556.5,45 C559.03,47.42 557.95,47 560.2,49.5 C562.45,52 566.7,56.25 570,60 C573.3,63.75 577.12,68.38 580,72 C582.88,75.62 585.77,79.53 587.3,81.7 C588.83,83.87 587.2,81.95 589.2,85 C591.2,88.05 595.5,94.17 599.3,100 C603.1,105.83 607.8,113.33 612,120 C616.2,126.67 621.5,135 624.5,140 C627.5,145 628.4,146.67 630,150 C631.6,153.33 632.67,157.7 634.1,160 C635.53,162.3 637.42,162.92 638.6,163.8 C639.78,164.68 640.13,163.77 641.2,165.3 C642.27,166.83 643.78,170.55 645,173 C646.22,175.45 647.28,177.17 648.5,180 C649.72,182.83 651.05,186.67 652.3,190 C653.55,193.33 654.8,197.55 656,200 C657.2,202.45 658.62,202.7 659.5,204.7 C660.38,206.7 660.58,209.45 661.3,212 C662.02,214.55 662.87,217.65 663.8,220 C664.73,222.35 665.93,223.3 666.9,226.1 C667.87,228.9 668.67,233.82 669.6,236.8 C670.53,239.78 671.5,241.77 672.5,244 C673.5,246.23 674.07,247.95 675.6,250.2 C677.13,252.45 680.68,256.28 681.7,257.5" fill="none" stroke="#ea4d4d" stroke-width="0.8" stroke-linejoin="round"/>
<path d="M462,9.5 C466.67,9.5 482.83,9.33 490,9.5 C497.17,9.67 500.33,10.05 505,10.5 C509.67,10.95 513.75,11.63 518,12.2 C522.25,12.77 526.83,13.07 530.5,13.9 C534.17,14.73 536.75,15.85 540,17.2 C543.25,18.55 546.35,19.95 550,22 C553.65,24.05 558.4,27 561.9,29.5 C565.4,32 568.07,34.42 571,37 C573.93,39.58 575.93,41.52 579.5,45 C583.07,48.48 589.8,55.4 592.4,57.9 C595,60.4 593,57.65 595.1,60 C597.2,62.35 601.58,67.83 605,72 C608.42,76.17 612.42,81.32 615.6,85 C618.78,88.68 621.98,91.6 624.1,94.1 C626.22,96.6 626.48,97.35 628.3,100 C630.12,102.65 632.97,107.22 635,110 C637.03,112.78 638.75,114.37 640.5,116.7 C642.25,119.03 643.18,120.57 645.5,124 C647.82,127.43 652.35,134.37 654.4,137.3 C656.45,140.23 656.37,139.48 657.8,141.6 C659.23,143.72 661.18,146.65 663,150 C664.82,153.35 666.07,156.87 668.7,161.7 C671.33,166.53 675.92,174.2 678.8,179 C681.68,183.8 684.1,187 686,190.5 C687.9,194 687.92,195.08 690.2,200 C692.48,204.92 697.65,216.1 699.7,220 C701.75,223.9 701.03,220.83 702.5,223.4 C703.97,225.97 706.7,231.48 708.5,235.4 C710.3,239.32 711.73,244.1 713.3,246.9 C714.87,249.7 716.8,250.43 717.9,252.2 C719,253.97 719.57,256.62 719.9,257.5" fill="none" stroke="#5a5af0" stroke-width="0.75" stroke-linejoin="round"/>
<path d="M452,9.5 C458.33,9.5 482,9.25 490,9.5 C498,9.75 496.42,10.42 500,11 C503.58,11.58 508,12.08 511.5,13 C515,13.92 517.92,15.43 521,16.5 C524.08,17.57 526.58,17.73 530,19.4 C533.42,21.07 537.83,23.9 541.5,26.5 C545.17,29.1 548.33,31.92 552,35 C555.67,38.08 560.3,41.93 563.5,45 C566.7,48.07 568.83,50.9 571.2,53.4 C573.57,55.9 574.9,56.73 577.7,60 C580.5,63.27 584.8,68.83 588,73 C591.2,77.17 594.87,82.33 596.9,85 C598.93,87.67 598.3,86.5 600.2,89 C602.1,91.5 604.83,94.83 608.3,100 C611.77,105.17 617.47,114.42 621,120 C624.53,125.58 627.22,130.17 629.5,133.5 C631.78,136.83 632.22,135.58 634.7,140 C637.18,144.42 640.75,153.33 644.4,160 C648.05,166.67 654.12,175.83 656.6,180 C659.08,184.17 658.52,183.33 659.3,185 C660.08,186.67 660.23,187.5 661.3,190 C662.37,192.5 664.53,197.45 665.7,200 C666.87,202.55 667.23,203.57 668.3,205.3 C669.37,207.03 670.82,208.45 672.1,210.4 C673.38,212.35 674.77,215.15 676,217 C677.23,218.85 678.33,219.33 679.5,221.5 C680.67,223.67 682.08,227.9 683,230 C683.92,232.1 683.98,231.63 685,234.1 C686.02,236.57 687.87,240.9 689.1,244.8 C690.33,248.7 691.85,255.38 692.4,257.5" fill="none" stroke="#f3a650" stroke-width="0.8" stroke-linejoin="round"/>
<path d="M468,9.5 C471.33,9.5 481.95,9.38 488,9.5 C494.05,9.62 499.3,9.82 504.3,10.2 C509.3,10.58 512.88,11 518,11.8 C523.12,12.6 530.5,13.72 535,15 C539.5,16.28 541.67,17.83 545,19.5 C548.33,21.17 551.43,23.02 555,25 C558.57,26.98 563.23,29.23 566.4,31.4 C569.57,33.57 571.48,35.73 574,38 C576.52,40.27 577.78,41.37 581.5,45 C585.22,48.63 592.22,55.3 596.3,59.8 C600.38,64.3 602.47,67.8 606,72 C609.53,76.2 613.95,80.67 617.5,85 C621.05,89.33 625.22,95.33 627.3,98 C629.38,100.67 628.55,99.33 630,101 C631.45,102.67 634.03,105.38 636,108 C637.97,110.62 639.97,113.87 641.8,116.7 C643.63,119.53 644.33,120.85 647,125 C649.67,129.15 655.13,137.43 657.8,141.6 C660.47,145.77 661.18,146.65 663,150 C664.82,153.35 666.07,156.87 668.7,161.7 C671.33,166.53 675.92,174.2 678.8,179 C681.68,183.8 684,187 686,190.5 C688,194 688.4,195.08 690.8,200 C693.2,204.92 698.33,216.1 700.4,220 C702.47,223.9 701.73,220.83 703.2,223.4 C704.67,225.97 707.42,231.48 709.2,235.4 C710.98,239.32 712.45,244.1 713.9,246.9 C715.35,249.7 716.93,250.43 717.9,252.2 C718.87,253.97 719.4,256.62 719.7,257.5" fill="none" stroke="#40dd40" stroke-width="0.9" stroke-linejoin="round"/>
<line x1="120" y1="9.5" x2="196" y2="9.5" stroke="#f2b07a" stroke-width="0.8"/>
<circle cx="47.1" cy="9.5" r="1.35" fill="none" stroke="#5ab9d8" stroke-width="1.0"/>
<circle cx="140.6" cy="9.5" r="1.35" fill="none" stroke="#5ab9d8" stroke-width="1.0"/>
<circle cx="47" cy="9.5" r="1.35" fill="none" stroke="#ea4d4d" stroke-width="1.0"/>
<circle cx="69.3" cy="9.5" r="1.35" fill="none" stroke="#ea4d4d" stroke-width="1.0"/>
<circle cx="124.7" cy="9.5" r="1.35" fill="none" stroke="#ea4d4d" stroke-width="1.0"/>
<circle cx="145.6" cy="9.5" r="1.35" fill="none" stroke="#ea4d4d" stroke-width="1.0"/>
<circle cx="173.5" cy="9.5" r="1.35" fill="none" stroke="#ea4d4d" stroke-width="1.0"/>
<circle cx="192.3" cy="9.5" r="1.35" fill="none" stroke="#ea4d4d" stroke-width="1.0"/>
<circle cx="51" cy="9.5" r="1.35" fill="none" stroke="#f2b07a" stroke-width="1.0"/>
<circle cx="71.7" cy="9.5" r="1.35" fill="none" stroke="#f2b07a" stroke-width="1.0"/>
<circle cx="121" cy="9.5" r="1.35" fill="none" stroke="#f2b07a" stroke-width="1.0"/>
<circle cx="142.9" cy="9.5" r="1.35" fill="none" stroke="#f2b07a" stroke-width="1.0"/>
<circle cx="161.2" cy="9.5" r="1.35" fill="none" stroke="#f2b07a" stroke-width="1.0"/>
<circle cx="181.5" cy="9.5" r="1.35" fill="none" stroke="#f2b07a" stroke-width="1.0"/>
<circle cx="65.1" cy="9.5" r="1.35" fill="none" stroke="#6e6e6e" stroke-width="1.0"/>
<circle cx="120.5" cy="9.5" r="1.35" fill="none" stroke="#6e6e6e" stroke-width="1.0"/>
<circle cx="169.6" cy="9.5" r="1.35" fill="none" stroke="#6e6e6e" stroke-width="1.0"/>
<circle cx="188.7" cy="9.5" r="1.35" fill="none" stroke="#6e6e6e" stroke-width="1.0"/>
<circle cx="87" cy="11.5" r="1.35" fill="none" stroke="#6e6e6e" stroke-width="1.0"/>
<circle cx="109.3" cy="21" r="1.35" fill="none" stroke="#6e6e6e" stroke-width="1.0"/>
<circle cx="130.9" cy="38.5" r="1.35" fill="none" stroke="#6e6e6e" stroke-width="1.0"/>
<circle cx="153.5" cy="65.6" r="1.35" fill="none" stroke="#6e6e6e" stroke-width="1.0"/>
<circle cx="175.1" cy="104.3" r="1.35" fill="none" stroke="#6e6e6e" stroke-width="1.0"/>
<circle cx="195.8" cy="141" r="1.35" fill="none" stroke="#6e6e6e" stroke-width="1.0"/>
<circle cx="91.4" cy="11.2" r="1.35" fill="none" stroke="#ea4d4d" stroke-width="1.0"/>
<circle cx="113.3" cy="20.6" r="1.35" fill="none" stroke="#ea4d4d" stroke-width="1.0"/>
<circle cx="135.4" cy="38.5" r="1.35" fill="none" stroke="#ea4d4d" stroke-width="1.0"/>
<circle cx="157.3" cy="66.2" r="1.35" fill="none" stroke="#ea4d4d" stroke-width="1.0"/>
<circle cx="180.2" cy="103.7" r="1.35" fill="none" stroke="#ea4d4d" stroke-width="1.0"/>
<circle cx="201.5" cy="143" r="1.35" fill="none" stroke="#ea4d4d" stroke-width="1.0"/>
<circle cx="116.5" cy="21.8" r="1.35" fill="none" stroke="#5ab9d8" stroke-width="1.0"/>
<circle cx="137.9" cy="40.4" r="1.35" fill="none" stroke="#5ab9d8" stroke-width="1.0"/>
<circle cx="183.7" cy="110.1" r="1.35" fill="none" stroke="#5ab9d8" stroke-width="1.0"/>
<circle cx="134.1" cy="41.1" r="1.35" fill="none" stroke="#f2b07a" stroke-width="1.0"/>
<circle cx="156" cy="68" r="1.35" fill="none" stroke="#f2b07a" stroke-width="1.0"/>
<circle cx="176.4" cy="101.1" r="1.35" fill="none" stroke="#f2b07a" stroke-width="1.0"/>
<circle cx="197" cy="141.7" r="1.35" fill="none" stroke="#f2b07a" stroke-width="1.0"/>
<circle cx="91" cy="9.5" r="1.35" fill="none" stroke="#a9b153" stroke-width="1.0"/>
<circle cx="115.7" cy="12.2" r="1.35" fill="none" stroke="#a9b153" stroke-width="1.0"/>
<circle cx="141.9" cy="21.7" r="1.35" fill="none" stroke="#a9b153" stroke-width="1.0"/>
<circle cx="165.7" cy="39.7" r="1.35" fill="none" stroke="#a9b153" stroke-width="1.0"/>
<circle cx="191.4" cy="68.8" r="1.35" fill="none" stroke="#a9b153" stroke-width="1.0"/>
<circle cx="216.3" cy="104.3" r="1.35" fill="none" stroke="#a9b153" stroke-width="1.0"/>
<circle cx="241.4" cy="150.7" r="1.35" fill="none" stroke="#a9b153" stroke-width="1.0"/>
<circle cx="202.8" cy="14.2" r="1.35" fill="none" stroke="#a9b153" stroke-width="1.0"/>
<circle cx="243.9" cy="63.8" r="1.35" fill="none" stroke="#a9b153" stroke-width="1.0"/>
<circle cx="264.5" cy="105.7" r="1.35" fill="none" stroke="#a9b153" stroke-width="1.0"/>
<circle cx="285.7" cy="158" r="1.35" fill="none" stroke="#a9b153" stroke-width="1.0"/>
<circle cx="307" cy="215.7" r="1.35" fill="none" stroke="#a9b153" stroke-width="1.0"/>
<circle cx="161.6" cy="13.4" r="1.35" fill="none" stroke="#6e6e6e" stroke-width="1.0"/>
<circle cx="182.5" cy="25" r="1.35" fill="none" stroke="#6e6e6e" stroke-width="1.0"/>
<circle cx="204" cy="48.4" r="1.35" fill="none" stroke="#6e6e6e" stroke-width="1.0"/>
<circle cx="224.6" cy="80.8" r="1.35" fill="none" stroke="#6e6e6e" stroke-width="1.0"/>
<circle cx="246" cy="121.1" r="1.35" fill="none" stroke="#6e6e6e" stroke-width="1.0"/>
<circle cx="266.6" cy="174" r="1.35" fill="none" stroke="#6e6e6e" stroke-width="1.0"/>
<circle cx="167.2" cy="13" r="1.35" fill="none" stroke="#ea4d4d" stroke-width="1.0"/>
<circle cx="187.5" cy="25.3" r="1.35" fill="none" stroke="#ea4d4d" stroke-width="1.0"/>
<circle cx="208.5" cy="48.8" r="1.35" fill="none" stroke="#ea4d4d" stroke-width="1.0"/>
<circle cx="250.7" cy="122.4" r="1.35" fill="none" stroke="#ea4d4d" stroke-width="1.0"/>
<circle cx="271.3" cy="174" r="1.35" fill="none" stroke="#ea4d4d" stroke-width="1.0"/>
<circle cx="179.9" cy="23" r="1.35" fill="none" stroke="#5ab9d8" stroke-width="1.0"/>
<circle cx="239.7" cy="108.2" r="1.35" fill="none" stroke="#5ab9d8" stroke-width="1.0"/>
<circle cx="229.3" cy="88.5" r="1.35" fill="none" stroke="#f2b07a" stroke-width="1.0"/>
<circle cx="251" cy="135.4" r="1.35" fill="none" stroke="#f2b07a" stroke-width="1.0"/>
<circle cx="206.8" cy="14.2" r="1.35" fill="none" stroke="#6e6e6e" stroke-width="1.0"/>
<circle cx="225.1" cy="26.6" r="1.35" fill="none" stroke="#6e6e6e" stroke-width="1.0"/>
<circle cx="211.2" cy="13.8" r="1.35" fill="none" stroke="#ea4d4d" stroke-width="1.0"/>
<circle cx="229.9" cy="27" r="1.35" fill="none" stroke="#ea4d4d" stroke-width="1.0"/>
<circle cx="249" cy="51" r="1.35" fill="none" stroke="#ea4d4d" stroke-width="1.0"/>
<circle cx="267.3" cy="83.6" r="1.35" fill="none" stroke="#ea4d4d" stroke-width="1.0"/>
<circle cx="220.4" cy="22.6" r="1.35" fill="none" stroke="#f2b07a" stroke-width="1.0"/>
<circle cx="240" cy="44.5" r="1.35" fill="none" stroke="#f2b07a" stroke-width="1.0"/>
<circle cx="260" cy="77.3" r="1.35" fill="none" stroke="#f2b07a" stroke-width="1.0"/>
<circle cx="278.9" cy="117.3" r="1.35" fill="none" stroke="#f2b07a" stroke-width="1.0"/>
<circle cx="244.5" cy="50.9" r="1.35" fill="none" stroke="#5ab9d8" stroke-width="1.0"/>
<circle cx="262.8" cy="83.9" r="1.35" fill="none" stroke="#5ab9d8" stroke-width="1.0"/>
<circle cx="436.7" cy="9.5" r="1.35" fill="none" stroke="#505050" stroke-width="1.0"/>
<circle cx="524.1" cy="22.3" r="1.35" fill="none" stroke="#505050" stroke-width="1.0"/>
<circle cx="553.2" cy="46.3" r="1.35" fill="none" stroke="#505050" stroke-width="1.0"/>
<circle cx="582.1" cy="81.7" r="1.35" fill="none" stroke="#505050" stroke-width="1.0"/>
<circle cx="611.5" cy="125.7" r="1.35" fill="none" stroke="#505050" stroke-width="1.0"/>
<circle cx="640.9" cy="176" r="1.35" fill="none" stroke="#505050" stroke-width="1.0"/>
<circle cx="441.7" cy="9.5" r="1.35" fill="none" stroke="#a9b153" stroke-width="1.0"/>
<circle cx="491.6" cy="13" r="1.35" fill="none" stroke="#a9b153" stroke-width="1.0"/>
<circle cx="516.4" cy="21.6" r="1.35" fill="none" stroke="#a9b153" stroke-width="1.0"/>
<circle cx="542.6" cy="40.1" r="1.35" fill="none" stroke="#a9b153" stroke-width="1.0"/>
<circle cx="567.3" cy="68.8" r="1.35" fill="none" stroke="#a9b153" stroke-width="1.0"/>
<circle cx="592.9" cy="107.1" r="1.35" fill="none" stroke="#a9b153" stroke-width="1.0"/>
<circle cx="618.7" cy="151.6" r="1.35" fill="none" stroke="#a9b153" stroke-width="1.0"/>
<circle cx="444.4" cy="9.5" r="1.35" fill="none" stroke="#5ab9d8" stroke-width="1.0"/>
<circle cx="471.8" cy="9.5" r="1.35" fill="none" stroke="#5ab9d8" stroke-width="1.0"/>
<circle cx="496.4" cy="12.6" r="1.35" fill="none" stroke="#5ab9d8" stroke-width="1.0"/>
<circle cx="554.5" cy="49.5" r="1.35" fill="none" stroke="#5ab9d8" stroke-width="1.0"/>
<circle cx="581.6" cy="83.2" r="1.35" fill="none" stroke="#5ab9d8" stroke-width="1.0"/>
<circle cx="609.6" cy="125.1" r="1.35" fill="none" stroke="#5ab9d8" stroke-width="1.0"/>
<circle cx="636.7" cy="176.7" r="1.35" fill="none" stroke="#5ab9d8" stroke-width="1.0"/>
<circle cx="453.3" cy="9.5" r="1.35" fill="none" stroke="#ea4d4d" stroke-width="1.0"/>
<circle cx="479.5" cy="9.5" r="1.35" fill="none" stroke="#ea4d4d" stroke-width="1.0"/>
<circle cx="506" cy="13" r="1.35" fill="none" stroke="#ea4d4d" stroke-width="1.0"/>
<circle cx="533.7" cy="25.4" r="1.35" fill="none" stroke="#ea4d4d" stroke-width="1.0"/>
<circle cx="560.2" cy="49.5" r="1.35" fill="none" stroke="#ea4d4d" stroke-width="1.0"/>
<circle cx="587.3" cy="81.7" r="1.35" fill="none" stroke="#ea4d4d" stroke-width="1.0"/>
<circle cx="614.1" cy="123.2" r="1.35" fill="none" stroke="#ea4d4d" stroke-width="1.0"/>
<circle cx="641.2" cy="165.1" r="1.35" fill="none" stroke="#ea4d4d" stroke-width="1.0"/>
<circle cx="454" cy="9.5" r="1.35" fill="none" stroke="#f3a650" stroke-width="1.0"/>
<circle cx="483.3" cy="9.5" r="1.35" fill="none" stroke="#f3a650" stroke-width="1.0"/>
<circle cx="511.5" cy="13" r="1.35" fill="none" stroke="#f3a650" stroke-width="1.0"/>
<circle cx="541.5" cy="26.5" r="1.35" fill="none" stroke="#f3a650" stroke-width="1.0"/>
<circle cx="571.2" cy="53.4" r="1.35" fill="none" stroke="#f3a650" stroke-width="1.0"/>
<circle cx="600.2" cy="89" r="1.35" fill="none" stroke="#f3a650" stroke-width="1.0"/>
<circle cx="629.5" cy="133.5" r="1.35" fill="none" stroke="#f3a650" stroke-width="1.0"/>
<circle cx="659.3" cy="185.1" r="1.35" fill="none" stroke="#f3a650" stroke-width="1.0"/>
<circle cx="466.8" cy="9.5" r="1.35" fill="none" stroke="#5a5af0" stroke-width="1.0"/>
<circle cx="499.4" cy="9.5" r="1.35" fill="none" stroke="#5a5af0" stroke-width="1.0"/>
<circle cx="530.5" cy="13.9" r="1.35" fill="none" stroke="#5a5af0" stroke-width="1.0"/>
<circle cx="561.9" cy="29.5" r="1.35" fill="none" stroke="#5a5af0" stroke-width="1.0"/>
<circle cx="592.4" cy="57.9" r="1.35" fill="none" stroke="#5a5af0" stroke-width="1.0"/>
<circle cx="624.1" cy="94.1" r="1.35" fill="none" stroke="#5a5af0" stroke-width="1.0"/>
<circle cx="654.4" cy="137.3" r="1.35" fill="none" stroke="#5a5af0" stroke-width="1.0"/>
<circle cx="686" cy="190.5" r="1.35" fill="none" stroke="#5a5af0" stroke-width="1.0"/>
<circle cx="473.4" cy="9.5" r="1.35" fill="none" stroke="#40dd40" stroke-width="1.0"/>
<circle cx="503.2" cy="9.5" r="1.35" fill="none" stroke="#40dd40" stroke-width="1.0"/>
<circle cx="535" cy="15" r="1.35" fill="none" stroke="#40dd40" stroke-width="1.0"/>
<circle cx="566.4" cy="31.4" r="1.35" fill="none" stroke="#40dd40" stroke-width="1.0"/>
<circle cx="596.3" cy="59.8" r="1.35" fill="none" stroke="#40dd40" stroke-width="1.0"/>
<circle cx="627.3" cy="98" r="1.35" fill="none" stroke="#40dd40" stroke-width="1.0"/>
<circle cx="657.8" cy="141.6" r="1.35" fill="none" stroke="#40dd40" stroke-width="1.0"/>
<circle cx="688.9" cy="194.8" r="1.35" fill="none" stroke="#40dd40" stroke-width="1.0"/>
<circle cx="535.6" cy="10.1" r="1.35" fill="none" stroke="#8f8f8f" stroke-width="1.0"/>
<circle cx="568.3" cy="15.9" r="1.35" fill="none" stroke="#8f8f8f" stroke-width="1.0"/>
<circle cx="601.8" cy="32.4" r="1.35" fill="none" stroke="#8f8f8f" stroke-width="1.0"/>
<circle cx="633.7" cy="62.6" r="1.35" fill="none" stroke="#8f8f8f" stroke-width="1.0"/>
<circle cx="666.9" cy="100.6" r="1.35" fill="none" stroke="#8f8f8f" stroke-width="1.0"/>
<circle cx="699.6" cy="149.7" r="1.35" fill="none" stroke="#8f8f8f" stroke-width="1.0"/>
<circle cx="731.9" cy="213.7" r="1.35" fill="none" stroke="#8f8f8f" stroke-width="1.0"/>
<circle cx="299.4" cy="167.3" r="1.35" fill="none" stroke="#f2b07a" stroke-width="1.0"/>
<circle cx="272" cy="185.2" r="1.35" fill="none" stroke="#f2b07a" stroke-width="1.0"/>
<circle cx="300.7" cy="168.6" r="1.35" fill="none" stroke="#6e6e6e" stroke-width="1.0"/>
<circle cx="305.8" cy="169.9" r="1.35" fill="none" stroke="#ea4d4d" stroke-width="1.0"/>
<circle cx="285.3" cy="122.6" r="1.35" fill="none" stroke="#ea4d4d" stroke-width="1.0"/>
<circle cx="281.5" cy="122.6" r="1.35" fill="none" stroke="#5ab9d8" stroke-width="1.0"/>
<circle cx="205.6" cy="154.3" r="1.35" fill="none" stroke="#5ab9d8" stroke-width="1.0"/>
<g fill="none" stroke="#444" stroke-width="0.8">
<ellipse cx="167.6" cy="59.8" rx="21.2" ry="5.5"/>
<ellipse cx="230.8" cy="90.1" rx="12.8" ry="4.4"/>
<ellipse cx="278.5" cy="115.6" rx="16.4" ry="5.3"/>
</g>
<line x1="151.5" y1="64.6" x2="126.26" y2="85.33" stroke="#333" stroke-width="0.8"/>
<path d="M122.4,88.5 L124.99,83.78 L127.53,86.87 Z" fill="#222"/>
<line x1="220.2" y1="93.8" x2="172.8" y2="129.4" stroke="#333" stroke-width="0.8"/>
<path d="M168.8,132.4 L171.6,127.8 L174,131 Z" fill="#222"/>
<line x1="279.2" y1="110.2" x2="292.02" y2="97.69" stroke="#333" stroke-width="0.8"/>
<path d="M295.6,94.2 L293.42,99.12 L290.62,96.26 Z" fill="#222"/>
<rect x="72.5" y="180.3" width="95" height="53.5" fill="#fff" stroke="#8c8c8c" stroke-width="0.9"/>
<line x1="76" y1="186.3" x2="102.8" y2="186.3" stroke="#a9b153" stroke-width="0.75"/>
<line x1="76" y1="196.75" x2="102.8" y2="196.75" stroke="#6e6e6e" stroke-width="0.75"/>
<line x1="76" y1="207.2" x2="102.8" y2="207.2" stroke="#5ab9d8" stroke-width="0.75"/>
<line x1="76" y1="217.65" x2="102.8" y2="217.65" stroke="#ea4d4d" stroke-width="0.75"/>
<line x1="76" y1="228.1" x2="102.8" y2="228.1" stroke="#f2b07a" stroke-width="0.75"/>
<rect x="455.3" y="151" width="99.6" height="85.3" fill="#fff" stroke="#8c8c8c" stroke-width="0.9"/>
<line x1="457.6" y1="157.5" x2="484.6" y2="157.5" stroke="#a9b153" stroke-width="0.75"/>
<line x1="457.6" y1="167.92" x2="484.6" y2="167.92" stroke="#5ab9d8" stroke-width="0.75"/>
<line x1="457.6" y1="178.34" x2="484.6" y2="178.34" stroke="#505050" stroke-width="0.75"/>
<line x1="457.6" y1="188.76" x2="484.6" y2="188.76" stroke="#5a5af0" stroke-width="0.75"/>
<line x1="457.6" y1="199.18" x2="484.6" y2="199.18" stroke="#8f8f8f" stroke-width="0.75"/>
<line x1="457.6" y1="209.6" x2="484.6" y2="209.6" stroke="#ea4d4d" stroke-width="0.75"/>
<line x1="457.6" y1="220.02" x2="484.6" y2="220.02" stroke="#f3a650" stroke-width="0.75"/>
<line x1="457.6" y1="230.44" x2="484.6" y2="230.44" stroke="#40dd40" stroke-width="0.75"/>
<g style="filter:grayscale(1)"><text x="44.6" y="270.6" text-anchor="middle" class="tk">5</text>
<text x="86.72" y="270.6" text-anchor="middle" class="tk">6</text>
<text x="128.85" y="270.6" text-anchor="middle" class="tk">7</text>
<text x="170.97" y="270.6" text-anchor="middle" class="tk">8</text>
<text x="213.1" y="270.6" text-anchor="middle" class="tk">9</text>
<text x="255.22" y="270.6" text-anchor="middle" class="tk">10</text>
<text x="297.35" y="270.6" text-anchor="middle" class="tk">11</text>
<text x="339.48" y="270.6" text-anchor="middle" class="tk">12</text>
<text x="381.6" y="270.6" text-anchor="middle" class="tk">13</text>
<text x="40" y="14.6" text-anchor="end" class="tk">10<tspan class="sup" dx="-0.6" dy="-4.2">0</tspan></text>
<text x="40" y="97.27" text-anchor="end" class="tk">10<tspan class="sup" dx="-0.6" dy="-4.2">-1</tspan></text>
<text x="40" y="179.93" text-anchor="end" class="tk">10<tspan class="sup" dx="-0.6" dy="-4.2">-2</tspan></text>
<text x="40" y="262.6" text-anchor="end" class="tk">10<tspan class="sup" dx="-0.6" dy="-4.2">-3</tspan></text>
<text x="213" y="283.7" text-anchor="middle" class="xl">PAPR0[dB]</text>
<text transform="translate(18.6,133.6) rotate(-90)" text-anchor="middle" class="xl">CCDF=Probability(PAPR&gt;PAPR0)</text>
<text x="426.6" y="270.6" text-anchor="middle" class="tk">7</text>
<text x="482.77" y="270.6" text-anchor="middle" class="tk">8</text>
<text x="538.93" y="270.6" text-anchor="middle" class="tk">9</text>
<text x="595.1" y="270.6" text-anchor="middle" class="tk">10</text>
<text x="651.27" y="270.6" text-anchor="middle" class="tk">11</text>
<text x="707.43" y="270.6" text-anchor="middle" class="tk">12</text>
<text x="763.6" y="270.6" text-anchor="middle" class="tk">13</text>
<text x="422" y="14.6" text-anchor="end" class="tk">10<tspan class="sup" dx="-0.6" dy="-4.2">0</tspan></text>
<text x="422" y="97.27" text-anchor="end" class="tk">10<tspan class="sup" dx="-0.6" dy="-4.2">-1</tspan></text>
<text x="422" y="179.93" text-anchor="end" class="tk">10<tspan class="sup" dx="-0.6" dy="-4.2">-2</tspan></text>
<text x="422" y="262.6" text-anchor="end" class="tk">10<tspan class="sup" dx="-0.6" dy="-4.2">-3</tspan></text>
<text x="595" y="283.7" text-anchor="middle" class="xl">PAPR0[dB]</text>
<text transform="translate(400.6,133.6) rotate(-90)" text-anchor="middle" class="xl">CCDF=Probability(PAPR&gt;PAPR0)</text>
<text x="112.6" y="100.5" class="nl">N=4</text>
<text x="152.6" y="143.9" class="nl">N=16</text>
<text x="290.6" y="91.4" class="nl">N=64</text>
<text x="104.6" y="189.9" class="lg">OFDM</text>
<text x="104.6" y="200.35" class="lg">OTFS-Rect</text>
<text x="104.6" y="210.8" class="lg">OTFS-RRC,<tspan class="al">α</tspan>=0</text>
<text x="104.6" y="221.25" class="lg">OTFS-RC,<tspan class="al">α</tspan>=0</text>
<text x="104.6" y="231.7" class="lg">OTFS-Drichlet</text>
<text x="486.5" y="161.1" class="lg">OFDM</text>
<text x="486.5" y="171.52" class="lg">OTFS-Rect</text>
<text x="486.5" y="181.94" class="lg">OTFS-RRC,<tspan class="al">α</tspan>=0.1</text>
<text x="486.5" y="192.36" class="lg">OTFS-RRC,<tspan class="al">α</tspan>=0.5</text>
<text x="486.5" y="202.78" class="lg">OTFS-RRC,<tspan class="al">α</tspan>=0.9</text>
<text x="486.5" y="213.2" class="lg">OTFS-RC,<tspan class="al">α</tspan>=0.1</text>
<text x="486.5" y="223.62" class="lg">OTFS-RC,<tspan class="al">α</tspan>=0.5</text>
<text x="486.5" y="234.04" class="lg">OTFS-RC,<tspan class="al">α</tspan>=0.9</text>
<text x="197.8" y="305.8" text-anchor="middle" class="cap">(<tspan>a</tspan>)</text>
<text x="579.8" y="305.8" text-anchor="middle" class="cap">(<tspan>b</tspan>)</text></g>
</svg></body></html>
